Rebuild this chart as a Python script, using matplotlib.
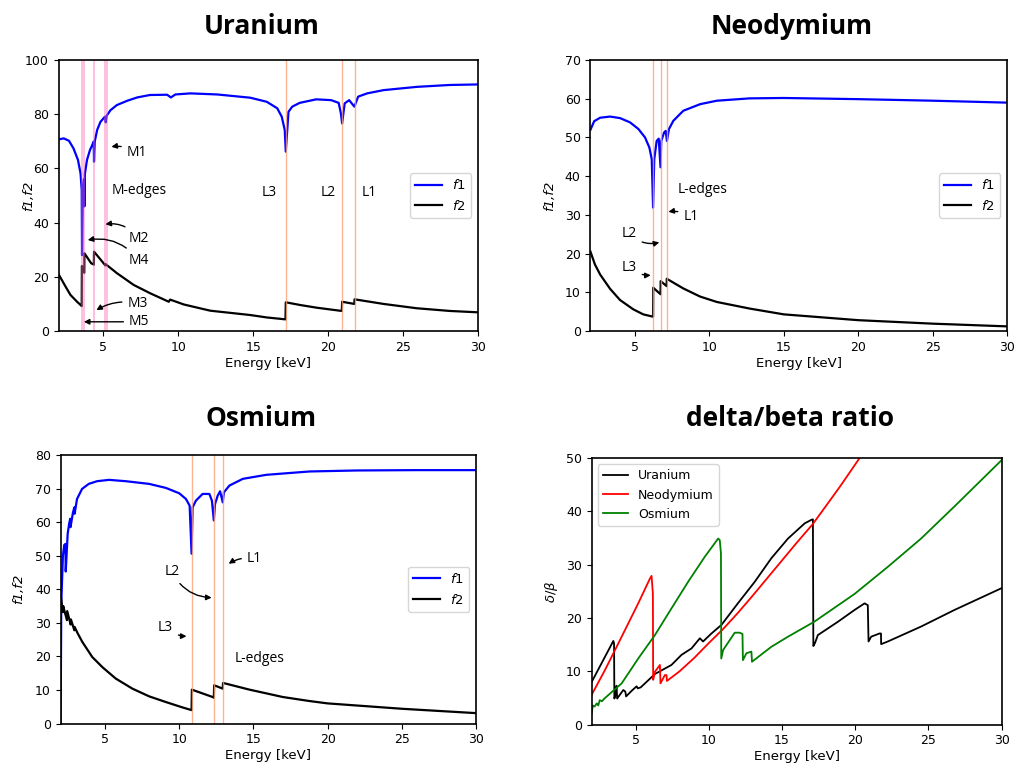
import matplotlib
matplotlib.use("Agg")
import matplotlib.pyplot as plt

# ---- Uranium f1/f2
u_e1 = [2.0, 2.35, 2.7, 3.0, 3.3, 3.47, 3.55, 3.57, 3.62, 3.70, 3.73, 3.76, 3.9, 4.1, 4.25, 4.35,
        4.37, 4.42, 4.58, 4.8, 5.1, 5.15, 5.22, 5.47, 5.9, 6.6, 7.25, 8.1, 9.25, 9.5, 9.8, 10.8,
        12.6, 14.8, 15.9, 16.6, 16.9, 17.1, 17.17, 17.35, 17.6, 18.1, 19.2, 20.2, 20.7, 20.85,
        20.93, 21.1, 21.4, 21.75, 22.0, 22.6, 23.7, 25.9, 28.1, 30.0]
u_f1 = [70.7, 71.1, 70.2, 67.4, 63.1, 58.2, 52.0, 28.0, 50.0, 56.0, 46.0, 58.0, 63.1, 66.8, 68.6, 69.9,
        62.5, 70.0, 74.2, 77.2, 79.1, 77.0, 79.5, 81.5, 83.4, 85.0, 86.2, 87.1, 87.2, 86.2, 87.3, 87.7,
        87.3, 86.1, 84.6, 82.2, 79.1, 74.2, 66.2, 80.9, 82.8, 84.2, 85.5, 85.2, 84.2, 80.3,
        76.6, 84.0, 85.2, 82.8, 86.5, 87.7, 88.9, 90.1, 90.8, 91.0]
u_e2 = [2.0, 2.47, 2.8, 3.24, 3.55, 3.56, 3.72, 3.73, 4.18, 4.36, 4.37, 5.13, 5.14, 5.91, 7.02, 8.13,
        9.36, 9.45, 10.36, 12.13, 14.8, 15.91, 17.15, 17.17, 18.13, 19.24, 20.91, 20.93, 21.74,
        21.76, 23.69, 25.91, 28.13, 30.0]
u_f2 = [21.0, 16.4, 13.3, 10.8, 9.2, 24.0, 21.5, 28.7, 25.0, 24.5, 29.3, 24.2, 24.7, 21.3, 17.0, 13.9,
        10.8, 11.6, 9.8, 7.5, 5.9, 5.0, 4.3, 10.6, 9.6, 8.6, 7.4, 10.8, 10.0,
        11.7, 10.0, 8.4, 7.4, 6.9]
u_m_edges = [3.56, 3.73, 4.37, 5.13, 5.22]
u_l_edges = [17.17, 20.92, 21.76]

# ---- Neodymium f1/f2
nd_e1 = [2.0, 2.25, 2.65, 3.32, 3.99, 4.66, 5.22, 5.67, 5.96, 6.12, 6.21, 6.29, 6.45, 6.59, 6.71,
         6.76, 6.95, 7.06, 7.14, 7.28, 7.57, 8.24, 9.37, 10.5, 12.7, 15.0, 20.0, 25.0, 30.0]
nd_f1 = [52.0, 54.2, 55.1, 55.4, 55.0, 53.9, 52.2, 50.0, 47.4, 44.4, 31.9, 44.4, 49.1, 49.7, 42.3,
         49.1, 51.3, 51.7, 49.1, 52.2, 54.3, 56.9, 58.6, 59.5, 60.1, 60.2, 59.9, 59.5, 59.0]
nd_e2 = [2.0, 2.3, 2.65, 3.32, 3.99, 4.88, 5.55, 6.21, 6.22, 6.71, 6.72, 7.12, 7.13, 8.24, 9.37,
         10.5, 12.7, 15.0, 20.0, 25.0, 30.0]
nd_f2 = [20.5, 17.2, 14.6, 10.9, 8.0, 5.6, 4.3, 3.7, 11.2, 9.5, 12.9, 11.6, 13.5, 11.0, 8.9,
         7.5, 5.8, 4.3, 2.8, 1.9, 1.2]
nd_l_edges = [6.21, 6.72, 7.13]

# ---- Osmium f1/f2
os_e1 = [2.0, 2.02, 2.05, 2.16, 2.25, 2.33, 2.35, 2.48, 2.58, 2.65, 2.67, 2.84, 2.93, 2.95, 3.11,
         3.45, 3.9, 4.46, 5.27, 6.4, 7.97, 9.1, 10.0, 10.45, 10.7, 10.83, 10.9, 11.12, 11.57,
         12.03, 12.2, 12.33, 12.41, 12.59, 12.75, 12.93, 13.01, 13.38, 14.28, 15.86, 18.78,
         22.0, 26.0, 30.0]
os_f1 = [0.0, 12.0, 36.0, 50.0, 53.2, 53.5, 45.3, 56.5, 59.5, 61.0, 58.5, 62.9, 64.4, 62.5, 66.9,
         69.9, 71.4, 72.2, 72.6, 72.2, 71.4, 70.2, 68.6, 66.9, 64.9, 50.6, 64.4, 66.4, 68.4,
         68.4, 66.4, 60.5, 65.4, 67.9, 69.2, 65.9, 68.9, 70.9, 72.9, 74.1, 75.1,
         75.4, 75.5, 75.5]
os_e2 = [2.0, 2.16, 2.18, 2.43, 2.45, 2.68, 2.70, 2.93, 2.95, 3.14, 3.47, 4.14, 4.82, 5.72, 6.84,
         7.97, 9.1, 10.22, 10.83, 10.85, 12.25, 12.33, 12.35, 12.93, 12.95, 14.73, 16.98, 18.78,
         20.0, 25.0, 30.0]
os_f2 = [38.5, 33.2, 35.0, 30.8, 33.5, 29.5, 31.0, 27.8, 28.8, 27.0, 24.3, 19.8, 16.8, 13.4, 10.4,
         8.1, 6.4, 4.8, 4.0, 10.1, 7.9, 7.7, 11.4, 10.4, 12.1, 10.1, 7.9, 6.7,
         6.0, 4.4, 3.1]
os_l_edges = [10.83, 12.33, 12.93]

# ---- delta/beta ratio
db_u_e = [2.0, 3.48, 3.53, 3.55, 3.62, 3.70, 3.74, 4.16, 4.30, 4.35, 4.75, 5.07, 5.15, 5.35, 6.32,
          7.45, 8.14, 8.82, 9.39, 9.61, 10.18, 10.86, 12.0, 13.14, 14.27, 15.41, 16.55, 17.0,
          17.11, 17.14, 17.25, 17.45, 18.82, 19.95, 20.64, 20.86, 20.91, 21.09, 21.66, 21.76,
          21.77, 22.23, 24.5, 26.77, 30.0]
db_u = [8.0, 15.7, 15.2, 4.9, 5.5, 7.3, 4.9, 6.5, 6.2, 5.3, 6.4, 7.2, 6.8, 7.0, 9.5,
        11.2, 13.1, 14.3, 16.2, 15.6, 17.1, 18.7, 22.8, 26.8, 31.2, 34.9, 37.75, 38.4,
        38.5, 14.75, 15.3, 16.8, 19.3, 21.5, 22.75, 22.4, 15.6, 16.5, 17.1, 17.1,
        15.1, 15.6, 18.4, 21.5, 25.6]
db_nd_e = [2.0, 2.91, 4.05, 5.18, 5.98, 6.09, 6.18, 6.20, 6.32, 6.66, 6.70, 7.0, 7.11, 7.14, 8.0,
           9.0, 10.0, 11.0, 12.0, 13.0, 14.0, 15.0, 16.0, 17.1, 18.0, 19.0, 20.3, 21.0]
db_nd = [5.6, 10.25, 16.5, 22.75, 27.4, 27.9, 24.6, 8.4, 9.9, 11.2, 7.75, 9.3, 9.3, 8.2, 10.0,
         12.5, 15.3, 18.0, 21.0, 24.2, 27.5, 30.8, 34.1, 37.6, 41.0, 44.8, 50.0, 52.8]
db_os_e = [2.0, 2.08, 2.2, 2.35, 2.45, 2.55, 2.7, 2.91, 4.05, 5.18, 6.32, 7.45, 8.59, 9.73, 10.64,
           10.75, 10.83, 10.85, 10.98, 11.77, 12.11, 12.30, 12.33, 12.57, 12.91, 12.95, 14.27,
           15.41, 17.2, 19.95, 22.23, 24.5, 26.77, 30.0]
db_os = [2.1, 3.6, 3.4, 4.0, 3.6, 4.6, 4.4, 5.0, 7.75, 12.4, 16.8, 21.8, 26.8, 31.5, 34.9,
         34.6, 32.1, 12.4, 14.0, 17.25, 17.25, 17.0, 12.1, 13.4, 13.7, 11.8, 14.6,
         16.5, 19.3, 24.5, 29.6, 34.9, 40.9, 49.6]

tick_fs = 9
note_font = "Open Sans"

fig = plt.figure(figsize=(10.14, 7.65), dpi=100)


def ff_axes(rect, e1, f1, e2, f2, ylim, yticks, ylab_x):
    ax = fig.add_axes(rect)
    ax.plot(e1, f1, color="blue", lw=1.6, label="$f1$")
    ax.plot(e2, f2, color="black", lw=1.6, label="$f2$")
    ax.set_xlim(2, 30)
    ax.set_ylim(*ylim)
    ax.set_yticks(yticks)
    ax.set_xticks([5, 10, 15, 20, 25, 30])
    ax.tick_params(labelsize=tick_fs)
    ax.set_xlabel("Energy [keV]", fontsize=9.5, labelpad=2)
    ax.set_ylabel("f1,f2", fontsize=9.5, fontstyle="italic")
    ax.yaxis.set_label_coords(ylab_x, 0.5)
    ax.legend(loc="center right", fontsize=9.5)
    for s in ax.spines.values():
        s.set_linewidth(1.2)
    return ax


def note(ax, txt, xy, xytext, rad=0.0, ha="left"):
    ax.annotate(txt, xy=xy, xytext=xytext, family=note_font, fontsize=10, ha=ha, va="center",
                arrowprops=dict(arrowstyle="-|>", color="black", lw=1, mutation_scale=8,
                                shrinkA=2, shrinkB=0, connectionstyle="arc3,rad=%s" % rad))


# Uranium
ax1 = ff_axes([0.0577, 0.5673, 0.4137, 0.3542], u_e1, u_f1, u_e2, u_f2, (0, 100),
              range(0, 101, 20), -0.056)
for e in u_m_edges:
    ax1.axvline(e, color="hotpink", alpha=0.5, lw=1.2)
for e in u_l_edges:
    ax1.axvline(e, color="lightsalmon", alpha=0.8, lw=1)
note(ax1, "M1", (5.53, 68.0), (6.55, 65.8), 0.2)
note(ax1, "M2", (5.13, 39.4), (6.65, 34.2), 0.3)
note(ax1, "M4", (3.95, 33.6), (6.65, 26.2), 0.3)
note(ax1, "M3", (4.53, 7.7), (6.6, 10.2), 0.2)
note(ax1, "M5", (3.69, 3.4), (6.7, 3.4), 0.0)
ax1.text(5.53, 52, "M-edges", family=note_font, fontsize=10, va="center")
for x, t in [(15.58, "L3"), (19.47, "L2"), (22.25, "L1")]:
    ax1.text(x, 51.2, t, family=note_font, fontsize=10, va="center")

# Neodymium
ax2 = ff_axes([0.5823, 0.5673, 0.4108, 0.3542], nd_e1, nd_f1, nd_e2, nd_f2, (0, 70),
              range(0, 71, 10), -0.082)
for e in nd_l_edges:
    ax2.axvline(e, color="lightsalmon", alpha=0.8, lw=1)
note(ax2, "L1", (7.24, 30.8), (8.24, 29.5), 0.2)
note(ax2, "L2", (6.63, 22.9), (4.1, 25.3), 0.3)
note(ax2, "L3", (6.05, 14.4), (4.1, 16.4), 0.2)
ax2.text(7.89, 36.6, "L-edges", family=note_font, fontsize=10, va="center")

# Osmium
ax3 = ff_axes([0.0597, 0.0542, 0.4098, 0.351], os_e1, os_f1, os_e2, os_f2, (0, 80),
              range(0, 81, 10), -0.085)
for e in os_l_edges:
    ax3.axvline(e, color="lightsalmon", alpha=0.8, lw=1)
note(ax3, "L1", (13.33, 47.6), (14.55, 49.1), 0.2)
note(ax3, "L2", (12.18, 37.5), (9.5, 45.4), 0.3, ha="center")
note(ax3, "L3", (10.49, 26.0), (9.07, 28.7), 0.2, ha="center")
ax3.text(13.72, 19.3, "L-edges", family=note_font, fontsize=10, va="center")

# delta/beta
ax4 = fig.add_axes([0.5835, 0.0527, 0.4043, 0.3486])
ax4.plot(db_u_e, db_u, color="black", lw=1.3, label="Uranium")
ax4.plot(db_nd_e, db_nd, color="red", lw=1.3, label="Neodymium")
ax4.plot(db_os_e, db_os, color="green", lw=1.3, label="Osmium")
ax4.set_xlim(2, 30)
ax4.set_ylim(0, 50)
ax4.set_xticks([5, 10, 15, 20, 25, 30])
ax4.tick_params(labelsize=tick_fs)
ax4.set_xlabel("Energy [keV]", fontsize=9.5, labelpad=2)
ax4.set_ylabel(r"$\delta/\beta$", fontsize=9.5)
ax4.legend(loc="upper left", fontsize=9)
for s in ax4.spines.values():
    s.set_linewidth(1.2)

# titles
tfont = dict(family="Open Sans", fontweight="bold", fontsize=19, ha="center", va="baseline")
fig.text(261.5 / 1014, 1 - 34.5 / 765, "Uranium", **tfont)
fig.text(792 / 1014, 1 - 34.5 / 765, "Neodymium", **tfont)
fig.text(261.5 / 1014, 1 - 426.5 / 765, "Osmium", **tfont)
fig.text(789.5 / 1014, 1 - 426.5 / 765, "delta/beta ratio", **tfont)

fig.savefig("out.png", dpi=100)
